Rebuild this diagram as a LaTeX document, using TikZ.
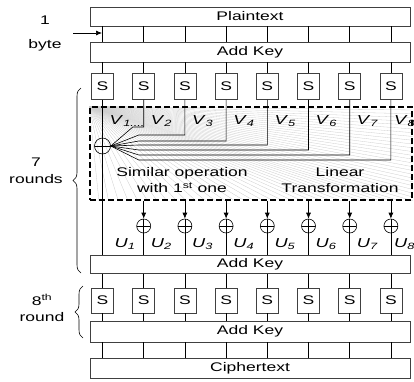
\documentclass[tikz,border=0pt]{standalone}
\usepackage{fontspec}
\setmainfont{Liberation Sans}[FakeStretch=1.4]
\usetikzlibrary{arrows.meta, calc, decorations.pathreplacing, backgrounds}
\newcommand{\lab}[2]{\textit{#1}\textsubscript{\textit{#2}}}

\begin{document}
\begin{tikzpicture}[
  x=1pt, y=-1pt,
  font=\fontsize{12.5}{16}\selectfont,
  bar/.style={draw=black!75, line width=0.6pt, minimum width=320pt, inner sep=0pt},
  sbox/.style={draw=black!75, line width=0.6pt, minimum width=22pt, inner sep=0pt},
  xor/.style={circle, draw, line width=0.6pt, inner sep=0pt, minimum size=#1,
              path picture={\draw (path picture bounding box.north) -- (path picture bounding box.south)
                                  (path picture bounding box.west) -- (path picture bounding box.east);}},
  ltbox/.style={draw, line width=1.6pt, dash pattern=on 6pt off 3pt,
                minimum width=322pt, minimum height=93pt, inner sep=0pt},
  wire/.style={line width=0.6pt},
  fan/.style={gray!40, line width=0.3pt},
  arr/.style={-{Latex[length=6pt, width=5pt]}, line width=0.7pt},
  brace/.style={decorate, decoration={brace, amplitude=8pt}, line width=0.6pt},
  lbl/.style={font=\fontsize{13}{15}\selectfont, inner sep=0pt, anchor=west}
]
\useasboundingbox (0,0) rectangle (414,381);

% long boxes
\node[bar, minimum height=19pt] (plain) at (250,16.5) {Plaintext};
\node[bar, minimum height=20pt] (ak1) at (250,52) {Add Key};
\node[bar, minimum height=17.5pt] (ak2) at (250,264.5) {Add Key};
\node[bar, minimum height=21pt] (ak3) at (250,331.5) {Add Key};
\node[bar, minimum height=20pt] (cipher) at (250,368) {Ciphertext};

% S boxes, two rows
\foreach \i in {1,...,8} {
  \pgfmathsetmacro\cx{102.5+41.2*(\i-1)}
  \node[sbox, minimum height=26pt] (s1-\i) at (\cx,86.5) {S};
  \node[sbox, minimum height=25pt] (s2-\i) at (\cx,300.5) {S};
}

% linear transformation box
\node[ltbox] (lt) at (251,153.5) {};
\node[xor=16pt] (xor1) at (102.5,146) {};
\foreach \i in {2,...,8}
  \node[xor=14pt] (x\i) at (s1-\i |- 0,226) {};

\begin{scope}[on background layer]
  \foreach \t in {0.04,0.08,...,1.01}
    \draw[fan] (lt.north west) -- ($(lt.north east)!\t!(lt.south east)$);
  \foreach \t in {0.03,0.06,...,0.97}
    \draw[fan] (lt.north west) -- ($(lt.south west)!\t!(lt.south east)$);
\end{scope}

% wires between stages
\foreach \i in {1,...,8} {
  \draw[wire] (plain.south -| s1-\i) -- (ak1.north -| s1-\i);
  \draw[wire] (ak1.south -| s1-\i) -- (s1-\i.north);
  \draw[wire] (ak2.south -| s2-\i) -- (s2-\i.north);
  \draw[wire] (s2-\i.south) -- (ak3.north -| s2-\i);
  \draw[wire] (ak3.south -| s2-\i) -- (cipher.north -| s2-\i);
}
\draw[wire] (s1-1.south) -- (ak2.north -| s1-1);

% S outputs gathered into the first XOR
\foreach \i/\bx/\dy in {2/22/-19, 3/28/-11, 4/28/-5, 5/28/-1, 6/28/4, 7/28/9, 8/28/14} {
  \path (xor1.east) ++(\bx,\dy) coordinate (b\i);
  \draw[wire] (s1-\i.south) |- (b\i) -- (xor1.east);
}

% outputs of the box into the other XORs
\foreach \i in {2,...,8} {
  \draw[arr] (lt.south -| x\i) -- (x\i.north);
  \draw[wire] (x\i.south) -- (ak2.north -| x\i);
}

% labels V and U
\node[lbl] (v1) at ($(s1-1 |- 0,121)+(7,0)$) {\lab{V}{1....}};
\foreach \i/\dx in {2/7,3/7,4/7,5/7,6/7,7/7,8/3}
  \node[lbl] (v\i) at ($(s1-\i |- 0,121)+(\dx,0)$) {\lab{V}{\i}};
\node[lbl] (u1) at ($(s1-1 |- 0,244)+(12,0)$) {\lab{U}{1}};
\foreach \i/\dx in {2/7,3/7,4/7,5/7,6/7,7/7,8/3}
  \node[lbl] (u\i) at ($(s1-\i |- 0,244)+(\dx,0)$) {\lab{U}{\i}};

\node[align=center] (simop) at (182,180) {Similar operation\\with 1\textsuperscript{st} one};
\node[align=center] (lin) at (340,180) {Linear\\Transformation};

% left side annotations
\node[align=center, font=\fontsize{12.5}{24}\selectfont] (byte) at (45,33) {1\\byte};
\coordinate (cell) at (102,33);
\draw[arr] (73,33) -- (cell);

\draw[brace] (81,273) -- (81,88);
\node[align=center, font=\fontsize{12.5}{17}\selectfont] (rnd7) at (36,171) {7\\rounds};
\draw[brace] (83,338) -- (83,286);
\node[align=center, font=\fontsize{12.5}{16}\selectfont] (rnd8) at (42,308) {8\textsuperscript{th}\\round};
\end{tikzpicture}
\end{document}
